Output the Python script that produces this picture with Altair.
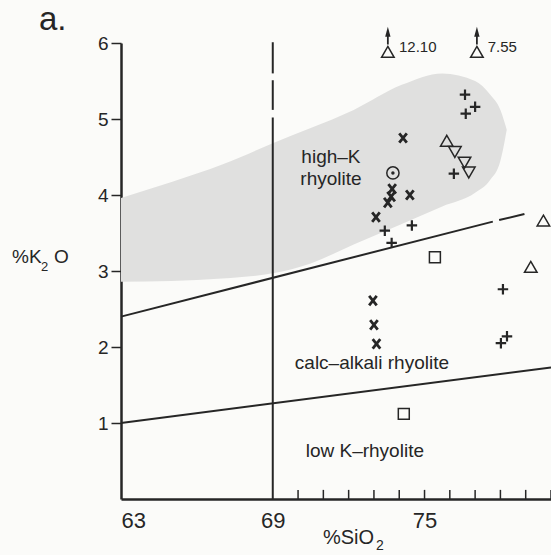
import altair as alt
import pandas as pd

INK = "#262626"
FONT = "Liberation Sans"

# ---------------- data ----------------
# shaded "high-K rhyolite" field (upper / lower boundary)
blob_x = [63, 65, 67, 69, 70.5, 72.2, 74.1, 75.7, 77.0, 77.6, 78.0, 78.25]
blob_hi = [3.96, 4.17, 4.40, 4.68, 4.88, 5.12, 5.45, 5.60, 5.50, 5.32, 5.12, 4.86]
blob_lo = [2.86, 2.87, 2.90, 2.97, 3.10, 3.35, 3.62, 3.85, 4.03, 4.20, 4.45, 4.86]

# boundary lines (segments)
line_seg = ["hk", "hk", "hk_dash", "hk_dash", "low", "low"]
line_x = [63, 77.7, 77.95, 78.95, 63, 80]
line_y = [2.40, 3.65, 3.67, 3.75, 1.00, 1.73]

# vertical line at 69 %SiO2 (solid + dashes on top)
v69_from = [0, 5.12, 5.60]
v69_to = [5.02, 5.51, 6.01]

# minor ticks on x axis
minor_ticks = [70, 71, 72, 73, 74, 75, 76, 77, 78, 79, 80]

cross_x = [74.15, 74.42, 73.08, 73.72, 73.68, 73.55, 72.96, 73.00, 73.10]
cross_y = [4.75, 4.00, 3.71, 4.08, 3.98, 3.90, 2.61, 2.29, 2.04]

plus_x = [76.60, 77.00, 76.63, 76.16, 74.50, 73.43, 73.70, 78.10, 78.26, 78.02]
plus_y = [5.32, 5.16, 5.07, 4.28, 3.60, 3.53, 3.37, 2.76, 2.14, 2.05]

tri_up_x = [75.88, 79.70, 79.20]
tri_up_y = [4.71, 3.66, 3.05]

tri_dn_x = [76.20, 76.58, 76.75]
tri_dn_y = [4.57, 4.43, 4.30]

circ_x = [73.75]
circ_y = [4.29]

sq_x = [75.41, 74.18]
sq_y = [3.18, 1.12]

# off-scale points drawn at the top with arrows
off_x = [73.55, 77.07]
off_y = [5.88, 5.88]
off_label = ["12.10", "7.55"]

region_text = ["high\u2013K", "rhyolite", "calc\u2013alkali rhyolite", "low K\u2013rhyolite"]
region_x = [71.3, 71.3, 72.92, 72.64]
region_y = [4.42, 4.13, 1.71, 0.55]

# ---------------- scales ----------------
xs = alt.Scale(domain=[63, 80], nice=False, zero=False)
ys = alt.Scale(domain=[0, 6], nice=False, zero=False)

blob_df = pd.DataFrame({"x": blob_x, "hi": blob_hi, "lo": blob_lo})
blob = alt.Chart(blob_df).mark_area(color="#e0e0df", interpolate="monotone").encode(
    x=alt.X("x:Q", scale=xs, axis=alt.Axis(
        values=[63, 69, 75], ticks=False, grid=False, title=None, format="d",
        labelFontSize=22, labelPadding=11, labelColor=INK, labelFont=FONT,
        domainColor=INK, domainWidth=2.5)),
    y=alt.Y("hi:Q", scale=ys, axis=alt.Axis(
        values=[1, 2, 3, 4, 5, 6], format="d", tickSize=10, tickWidth=1.5, tickColor=INK,
        grid=False, title=None, labelFontSize=19, labelPadding=3,
        labelColor=INK, labelFont=FONT, domainColor=INK, domainWidth=2.5)),
    y2="lo:Q",
)

lines_df = pd.DataFrame({"seg": line_seg, "x": line_x, "y": line_y})
lines = alt.Chart(lines_df).mark_line(color=INK, strokeWidth=2).encode(
    x=alt.X("x:Q", scale=xs), y=alt.Y("y:Q", scale=ys), detail="seg:N")

v69_df = pd.DataFrame({"x": [69] * len(v69_from), "a": v69_from, "b": v69_to})
v69 = alt.Chart(v69_df).mark_rule(color=INK, strokeWidth=2).encode(
    x=alt.X("x:Q", scale=xs), y=alt.Y("a:Q", scale=ys), y2="b:Q")

ticks_df = pd.DataFrame({"x": minor_ticks, "a": [0] * len(minor_ticks), "b": [0.12] * len(minor_ticks)})
ticks = alt.Chart(ticks_df).mark_rule(color=INK, strokeWidth=1.5).encode(
    x=alt.X("x:Q", scale=xs), y=alt.Y("a:Q", scale=ys), y2="b:Q")


def pts(xv, yv, shape, size, sw=1.5, filled=False):
    df = pd.DataFrame({"x": xv, "y": yv})
    if filled:
        m = alt.Chart(df).mark_point(shape=shape, size=size, filled=True, color=INK, opacity=1)
    else:
        m = alt.Chart(df).mark_point(shape=shape, size=size, filled=False, stroke=INK,
                                     strokeWidth=sw, opacity=1)
    return m.encode(x=alt.X("x:Q", scale=xs), y=alt.Y("y:Q", scale=ys))


cross = pts(cross_x, cross_y, "M-0.8,-1L0.8,1M-0.8,1L0.8,-1", 90, sw=2.8)
plus = pts(plus_x, plus_y, "M0,-1L0,1M-1,0L1,0", 110, sw=2.2)
tri_up = pts(tri_up_x + off_x, tri_up_y + off_y, "M0,-1L1.1,0.9L-1.1,0.9Z", 130, sw=1.5)
tri_dn = pts(tri_dn_x, tri_dn_y, "M0,1L1.1,-0.9L-1.1,-0.9Z", 130, sw=1.5)
circ = pts(circ_x, circ_y, "circle", 150, sw=1.5)
dot = pts(circ_x, circ_y, "circle", 12, filled=True)
sq = pts(sq_x, sq_y, "square", 120, sw=1.5)

arrow_df = pd.DataFrame({"x": off_x, "a": [5.98] * 2, "b": [6.10] * 2, "h": [6.13] * 2,
                         "lab": off_label, "lx": [73.99, 77.5], "ly": [5.95] * 2})
arrow_rule = alt.Chart(arrow_df).mark_rule(color=INK, strokeWidth=1.8).encode(
    x=alt.X("x:Q", scale=xs), y=alt.Y("a:Q", scale=ys), y2="b:Q")
arrow_head = alt.Chart(arrow_df).mark_point(shape="M0,-1.4L0.6,0.8L-0.6,0.8Z", size=80,
                                             filled=True, color=INK, opacity=1).encode(
    x=alt.X("x:Q", scale=xs), y=alt.Y("h:Q", scale=ys))
arrow_txt = alt.Chart(arrow_df).mark_text(align="left", baseline="middle", fontSize=15,
                                           font=FONT, color=INK).encode(
    x=alt.X("lx:Q", scale=xs), y=alt.Y("ly:Q", scale=ys), text="lab:N")

reg_df = pd.DataFrame({"t": region_text, "x": region_x, "y": region_y})
reg_txt = alt.Chart(reg_df).mark_text(align="center", baseline="alphabetic", fontSize=19,
                                       font=FONT, color=INK).encode(
    x=alt.X("x:Q", scale=xs), y=alt.Y("y:Q", scale=ys), text="t:N")


def ptext(t, px, py, size, align="left"):
    # free text placed in pixels relative to the plot origin (121, 43)
    return alt.Chart(pd.DataFrame({"t": [t]})).mark_text(
        align=align, baseline="alphabetic", fontSize=size, font=FONT, color=INK
    ).encode(x=alt.value(px - 121), y=alt.value(py - 43), text="t:N")


labels = [
    ptext("a.", 39, 30, 33),
    ptext("%K", 12, 263, 19),
    ptext("2", 41, 271, 13),
    ptext("O", 54, 263, 19),
    ptext("%SiO", 323, 544, 20),
    ptext("2", 376, 550, 14),
]

chart = alt.layer(
    blob, lines, v69, ticks, cross, plus, tri_up, tri_dn, circ, dot, sq,
    arrow_rule, arrow_head, arrow_txt, reg_txt, *labels
).properties(
    width=430, height=456,
    autosize=alt.AutoSizeParams(type="none"),
    padding={"left": 121, "top": 43, "right": 0, "bottom": 56},
    background="#fbfbf9",
).configure_view(stroke=None)

chart.save("out.html", embed_options={"renderer": "svg", "actions": False})
